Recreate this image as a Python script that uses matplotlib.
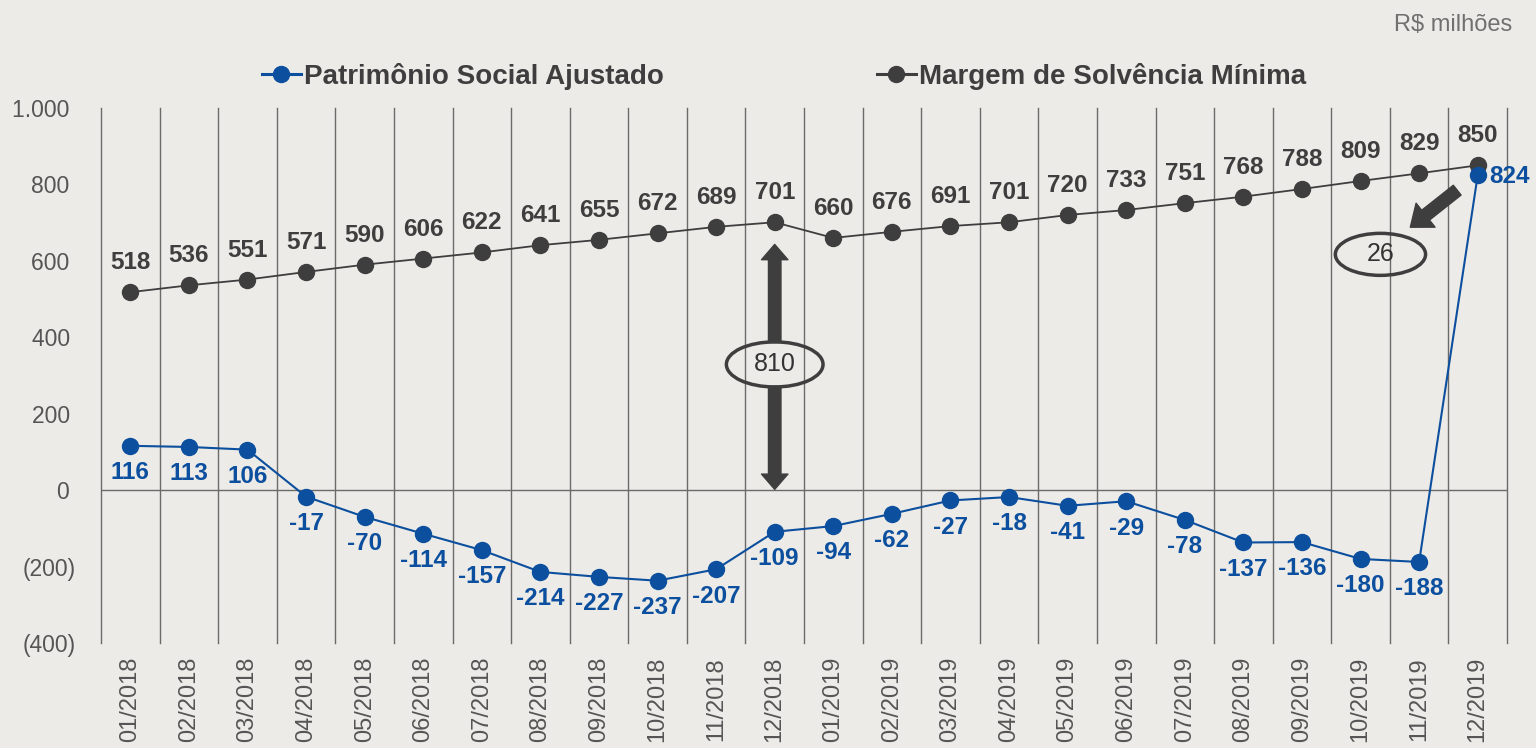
import matplotlib
matplotlib.use("Agg")
import matplotlib.pyplot as plt
from matplotlib.patches import Ellipse
from matplotlib.lines import Line2D

plt.rcParams['font.family'] = ['Liberation Sans', 'DejaVu Sans']

meses = ['01/2018', '02/2018', '03/2018', '04/2018', '05/2018', '06/2018',
         '07/2018', '08/2018', '09/2018', '10/2018', '11/2018', '12/2018',
         '01/2019', '02/2019', '03/2019', '04/2019', '05/2019', '06/2019',
         '07/2019', '08/2019', '09/2019', '10/2019', '11/2019', '12/2019']
margem = [518, 536, 551, 571, 590, 606, 622, 641, 655, 672, 689, 701,
          660, 676, 691, 701, 720, 733, 751, 768, 788, 809, 829, 850]
patrimonio = [116, 113, 106, -17, -70, -114, -157, -214, -227, -237, -207, -109,
              -94, -62, -27, -18, -41, -29, -78, -137, -136, -180, -188, 824]
yticks = [1000, 800, 600, 400, 200, 0, -200, -400]
ylabels = ['1.000 ', '800 ', '600 ', '400 ', '200 ', '0 ', '(200)', '(400)']

bg = '#EDEBE7'
azul = '#0B4F9E'
cinza = '#3E3E3E'
grade = '#6A6A6A'
texto = '#555555'

fig = plt.figure(figsize=(15.36, 7.48), dpi=100, facecolor=bg)
ax = fig.add_axes([101 / 1536, 1 - 643 / 748, 1406 / 1536, 535 / 748])
ax.set_facecolor(bg)

x = list(range(len(meses)))
ax.set_xlim(-0.5, len(meses) - 0.5)
ax.set_ylim(-400, 1000)

# grade vertical entre os meses
for b in range(len(meses) + 1):
    ax.axvline(b - 0.5, color=grade, lw=1.0, zorder=1, clip_on=False)
ax.axhline(0, color=grade, lw=1.0, zorder=1)
for s in ax.spines.values():
    s.set_visible(False)

ax.plot(x, margem, color=cinza, lw=1.3, marker='o', ms=11.5, zorder=3)
ax.plot(x, patrimonio, color=azul, lw=1.5, marker='o', ms=11.5, zorder=4, clip_on=False)

for i, v in enumerate(margem):
    ax.annotate(str(v), (i, v), xytext=(0, 13), textcoords='offset points',
                ha='center', va='bottom', fontsize=17.5, fontweight='bold', color=cinza)
for i, v in enumerate(patrimonio):
    if i == len(patrimonio) - 1:
        ax.annotate(str(v), (i, v), xytext=(8, -1), textcoords='offset points',
                    ha='left', va='center', fontsize=17.5, fontweight='bold', color=azul)
    else:
        ax.annotate(str(v), (i, v), xytext=(0, -11), textcoords='offset points',
                    ha='center', va='top', fontsize=17.5, fontweight='bold', color=azul)

ax.set_xticks(x)
ax.set_xticklabels(meses, rotation=90, fontsize=17, color=texto)
ax.set_yticks(yticks)
ax.set_yticklabels(ylabels, fontsize=16.5, color=texto)
ax.tick_params(axis='both', length=0)
ax.tick_params(axis='x', pad=10)
ax.tick_params(axis='y', pad=18)

# seta dupla 810
seta = dict(width=9, headwidth=19, headlength=11, color=cinza, shrink=0)
ax.annotate('', xy=(11, 643), xytext=(11, 386), arrowprops=seta, zorder=5)
ax.annotate('', xy=(11, 2), xytext=(11, 272), arrowprops=seta, zorder=5)
ax.add_patch(Ellipse((11, 329), 1.65, 118, facecolor='none', edgecolor=cinza, lw=2.5, zorder=6))
ax.text(11, 329, '810', ha='center', va='center', fontsize=18,
        color='#333333', zorder=7)

# seta 26
seta2 = dict(width=9, headwidth=22, headlength=14, color=cinza, shrink=0)
ax.annotate('', xy=(21.85, 688), xytext=(22.65, 785), arrowprops=seta2, zorder=5)
ax.add_patch(Ellipse((21.34, 617), 1.54, 110, facecolor='none', edgecolor=cinza, lw=2.5, zorder=6))
ax.text(21.34, 617, '26', ha='center', va='center', fontsize=18,
        color='#333333', zorder=7)

# legenda
h1 = Line2D([], [], color=azul, lw=2.2, marker='o', ms=11.5)
h2 = Line2D([], [], color=cinza, lw=2.2, marker='o', ms=11.5)
for h, txt, px in [(h1, 'Patrimônio Social Ajustado', 262),
                   (h2, 'Margem de Solvência Mínima', 877)]:
    leg = fig.legend([h], [txt], loc='center left', bbox_to_anchor=(px / 1536, 1 - 76 / 748),
                     frameon=False, handlelength=1.4, handletextpad=0.12, borderpad=0,
                     borderaxespad=0, prop={'size': 20, 'weight': 'bold'})
    for t in leg.get_texts():
        t.set_color(cinza)

fig.text(1512 / 1536, 1 - 25 / 748, 'R$ milhões', ha='right', va='center',
         fontsize=17, color='#707070')

fig.savefig('out.png', dpi=100, facecolor=bg)
